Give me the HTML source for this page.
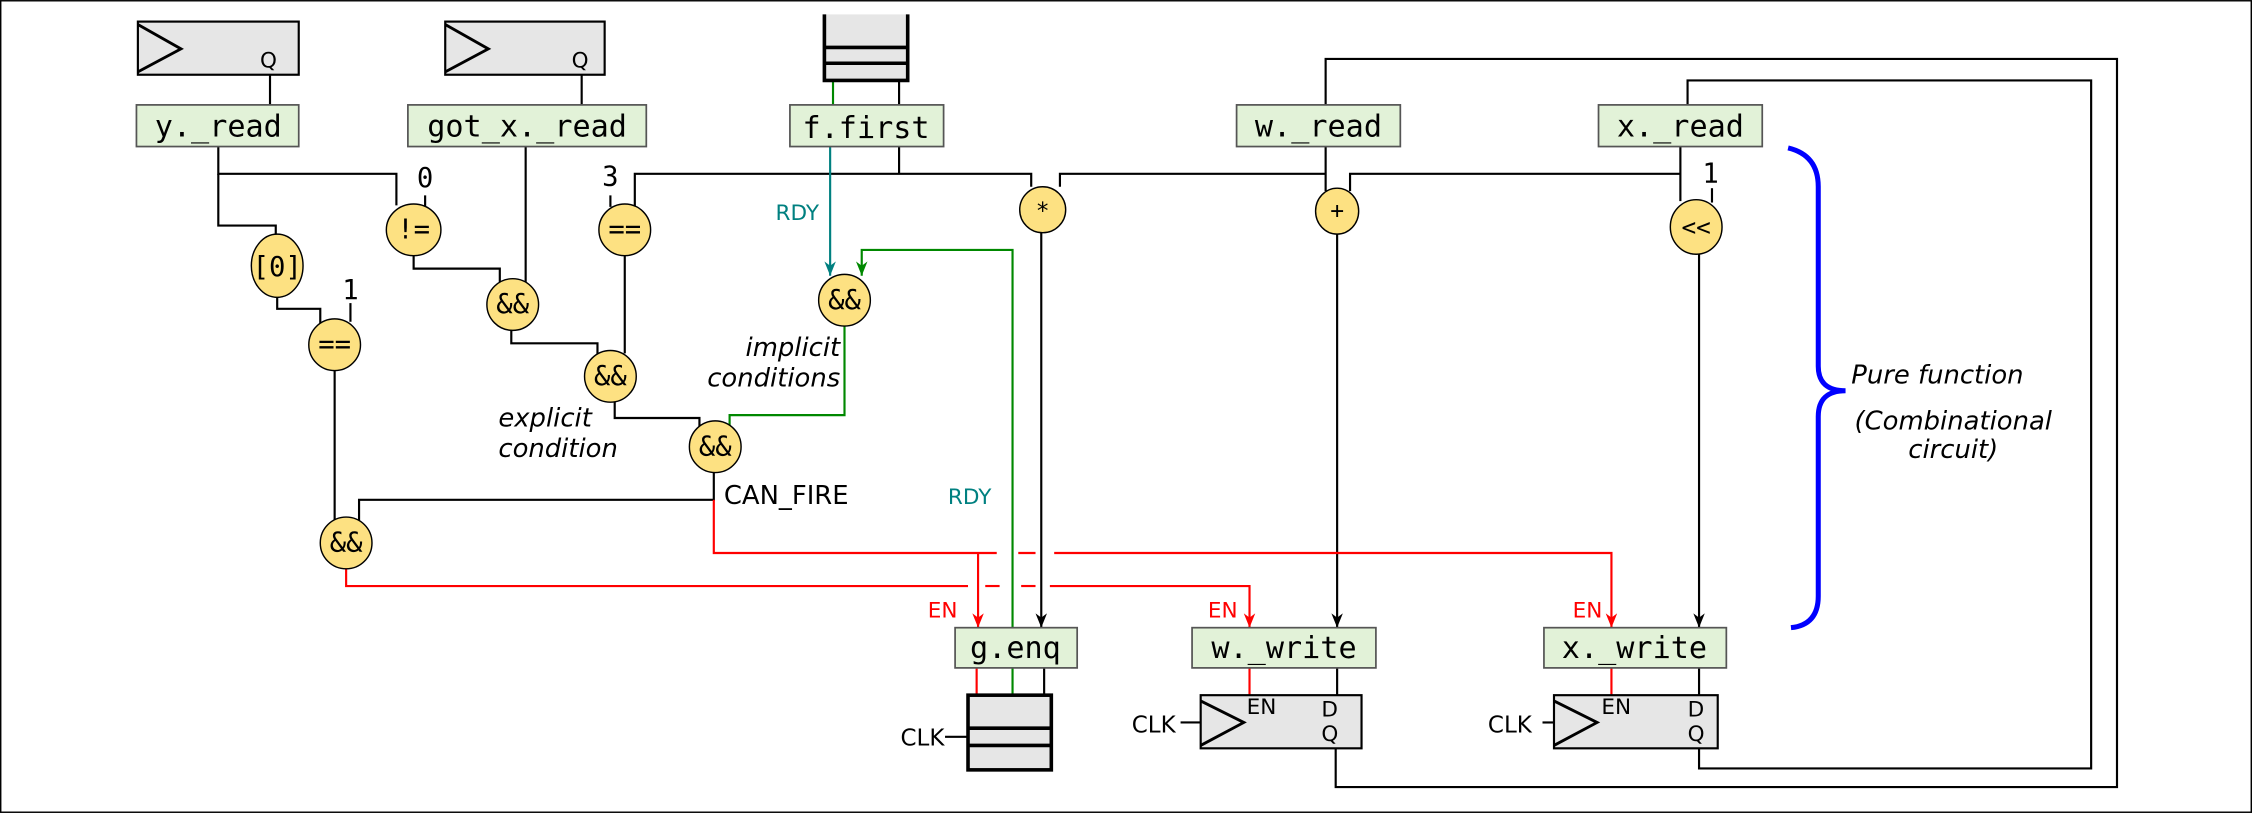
<!DOCTYPE html>
<html><head><style>html,body{margin:0;padding:0;background:#fff}svg{display:block}</style></head><body>
<svg width="2252" height="813" viewBox="0 0 1568 566" xmlns="http://www.w3.org/2000/svg">
<defs>
<marker id="ab" markerWidth="12" markerHeight="12" refX="10" refY="5" orient="auto" markerUnits="userSpaceOnUse"><path d="M0,1 L10,5 L0,9 L3,5 Z" fill="#000"/></marker>
<marker id="ar" markerWidth="12" markerHeight="12" refX="10" refY="5" orient="auto" markerUnits="userSpaceOnUse"><path d="M0,1 L10,5 L0,9 L3,5 Z" fill="#f00"/></marker>
<marker id="at" markerWidth="12" markerHeight="12" refX="10" refY="5" orient="auto" markerUnits="userSpaceOnUse"><path d="M0,1 L10,5 L0,9 L3,5 Z" fill="#008080"/></marker>
<marker id="ag" markerWidth="12" markerHeight="12" refX="10" refY="5" orient="auto" markerUnits="userSpaceOnUse"><path d="M0,1 L10,5 L0,9 L3,5 Z" fill="#080"/></marker>
</defs>
<rect x="0.5" y="0.5" width="1567" height="565" fill="#fff" stroke="#000" stroke-width="1"/>
<g fill="none" stroke="#000" stroke-width="1.5">
<polyline points="923,73 923,41 1474,41 1474,548 930,548 930,521"/>
<polyline points="1175,73 1175,56 1456,56 1456,535 1183,535 1183,521"/>
<line x1="188" y1="52" x2="188" y2="73"/>
<line x1="405" y1="52" x2="405" y2="73"/>
<line x1="626" y1="56" x2="626" y2="73"/>
<polyline points="152,102 152,121 276,121 276,143"/>
<polyline points="152,121 152,157 192,157 192,163"/>
<line x1="296" y1="136" x2="296" y2="145"/>
<polyline points="193,207 193,215 223,215 223,225"/>
<line x1="244" y1="211" x2="244" y2="224"/>
<line x1="233" y1="257" x2="233" y2="362"/>
<polyline points="288,178 288,187 348,187 348,197"/>
<line x1="366" y1="102" x2="366" y2="198"/>
<polyline points="356,229 356,239 416,239 416,247"/>
<line x1="425" y1="136" x2="425" y2="144"/>
<polyline points="442,145 442,121 718,121 718,130"/>
<line x1="626" y1="102" x2="626" y2="121"/>
<line x1="435" y1="177" x2="435" y2="246"/>
<polyline points="428,277 428,291 487,291 487,297"/>
<polyline points="497,328 497,348 250,348 250,364"/>
<line x1="725" y1="162" x2="725" y2="437" marker-end="url(#ab)"/>
<polyline points="738,130 738,121 923,121"/>
<line x1="923" y1="102" x2="923" y2="133"/>
<polyline points="940,133 940,121 1170,121"/>
<line x1="1170" y1="102" x2="1170" y2="140"/>
<line x1="1192" y1="131" x2="1192" y2="141"/>
<line x1="931" y1="163" x2="931" y2="437" marker-end="url(#ab)"/>
<line x1="1183" y1="176" x2="1183" y2="437" marker-end="url(#ab)"/>
<line x1="727" y1="465" x2="727" y2="484"/>
<line x1="931" y1="465" x2="931" y2="484"/>
<line x1="1183" y1="465" x2="1183" y2="484"/>
<line x1="658" y1="513" x2="674" y2="513"/>
<line x1="822" y1="503" x2="836" y2="503"/>
<line x1="1074" y1="503" x2="1082" y2="503"/>
</g>
<g fill="none" stroke-width="1.5">
<line x1="580" y1="56" x2="580" y2="73" stroke="#080"/>
<line x1="578" y1="102" x2="578" y2="192" stroke="#008080" marker-end="url(#at)"/>
<polyline points="705,484 705,174 600,174 600,192" stroke="#080" marker-end="url(#ag)"/>
<polyline points="588,226 588,289 508,289 508,297" stroke="#080"/>
</g>
<g fill="none" stroke="#f00" stroke-width="1.5">
<polyline points="497,348 497,385 694,385"/>
<line x1="709" y1="385" x2="721" y2="385"/>
<polyline points="734,385 1122,385 1122,437" marker-end="url(#ar)"/>
<line x1="681" y1="385" x2="681" y2="437" marker-end="url(#ar)"/>
<polyline points="241,395 241,408 674,408"/>
<line x1="686" y1="408" x2="696" y2="408"/>
<line x1="711" y1="408" x2="721" y2="408"/>
<polyline points="731,408 870,408 870,437" marker-end="url(#ar)"/>
<line x1="680" y1="465" x2="680" y2="484"/>
<line x1="870" y1="465" x2="870" y2="484"/>
<line x1="1122" y1="465" x2="1122" y2="484"/>
</g>
<g stroke="#000" stroke-width="1.5" fill="#e6e6e6">
<rect x="96" y="15" width="112" height="37"/>
<rect x="310" y="15" width="111" height="37"/>
<rect x="836" y="484" width="112" height="37"/>
<rect x="1082" y="484" width="114" height="37"/>
</g>
<g stroke="#000" stroke-width="2" fill="none">
<polyline points="96,17 126,34 96,50"/>
<polyline points="310,17 340,34 310,50"/>
<polyline points="836,488 866,503 836,519"/>
<polyline points="1082,488 1112,503 1082,519"/>
</g>
<g stroke="#000" stroke-width="2.5" fill="#e6e6e6">
<path d="M574,10 L574,56 L632,56 L632,10" />
<line x1="574" y1="33" x2="632" y2="33"/>
<line x1="574" y1="44" x2="632" y2="44"/>
<rect x="674" y="484" width="58" height="52"/>
<line x1="674" y1="507" x2="732" y2="507"/>
<line x1="674" y1="519" x2="732" y2="519"/>
</g>
<g stroke="#555" stroke-width="1.2" fill="#e2f2d8">
<rect x="95" y="73" width="113" height="29"/>
<rect x="284" y="73" width="166" height="29"/>
<rect x="550" y="73" width="107" height="29"/>
<rect x="861" y="73" width="114" height="29"/>
<rect x="1113" y="73" width="114" height="29"/>
<rect x="665" y="437" width="85" height="28"/>
<rect x="830" y="437" width="128" height="28"/>
<rect x="1075" y="437" width="127" height="28"/>
</g>
<g font-family="DejaVu Sans Mono, Liberation Mono, monospace" font-size="21" fill="#000" text-anchor="middle">
<text x="152" y="95">y._read</text>
<text x="367" y="95">got_x._read</text>
<text x="603" y="96">f.first</text>
<text x="918" y="95">w._read</text>
<text x="1170" y="95">x._read</text>
<text x="707" y="458">g.enq</text>
<text x="894" y="458">w._write</text>
<text x="1138" y="458">x._write</text>
</g>
<g stroke="#000" stroke-width="1" fill="#fde182">
<ellipse cx="288" cy="160" rx="19" ry="18"/>
<ellipse cx="193" cy="185" rx="18" ry="22"/>
<ellipse cx="233" cy="240" rx="18" ry="18"/>
<ellipse cx="357" cy="212" rx="18" ry="18"/>
<ellipse cx="435" cy="160" rx="18" ry="18"/>
<ellipse cx="425" cy="262" rx="18" ry="18"/>
<ellipse cx="498" cy="311" rx="18" ry="18"/>
<ellipse cx="588" cy="209" rx="18" ry="18"/>
<ellipse cx="241" cy="378" rx="18" ry="18"/>
<ellipse cx="726" cy="146" rx="16" ry="16"/>
<ellipse cx="931" cy="147" rx="15" ry="16"/>
<ellipse cx="1181" cy="158" rx="18" ry="19"/>
</g>
<g font-family="DejaVu Sans Mono, Liberation Mono, monospace" font-size="19" fill="#000" text-anchor="middle">
<text x="288" y="166">!=</text>
<text x="193" y="192">[0]</text>
<text x="233" y="246">==</text>
<text x="357" y="218">&amp;&amp;</text>
<text x="435" y="166">==</text>
<text x="425" y="268">&amp;&amp;</text>
<text x="498" y="317">&amp;&amp;</text>
<text x="588" y="215">&amp;&amp;</text>
<text x="241" y="384">&amp;&amp;</text>
<text x="726" y="152" font-size="16">*</text>
<text x="931" y="152" font-size="16">+</text>
<text x="1181" y="164" font-size="17">&lt;&lt;</text>
<text x="296" y="130">0</text>
<text x="244" y="208">1</text>
<text x="425" y="129">3</text>
<text x="1191" y="127">1</text>
</g>
<g font-family="DejaVu Sans, Liberation Sans, sans-serif" font-size="18" fill="#000">
<text x="504" y="351">CAN_FIRE</text>
<text x="540" y="153" fill="#008080" font-size="15">RDY</text>
<text x="660" y="351" fill="#008080" font-size="15">RDY</text>
<text x="646" y="430" fill="#f00" font-size="15">EN</text>
<text x="841" y="430" fill="#f00" font-size="15">EN</text>
<text x="1095" y="430" fill="#f00" font-size="15">EN</text>
<text x="627" y="519" font-size="16">CLK</text>
<text x="788" y="510" font-size="16">CLK</text>
<text x="1036" y="510" font-size="16">CLK</text>
<text x="868" y="497" font-size="15">EN</text>
<text x="920" y="499" font-size="15">D</text>
<text x="920" y="516" font-size="15">Q</text>
<text x="1115" y="497" font-size="15">EN</text>
<text x="1175" y="499" font-size="15">D</text>
<text x="1175" y="516" font-size="15">Q</text>
<text x="181" y="47" font-size="15">Q</text>
<text x="398" y="47" font-size="15">Q</text>
</g>
<g font-family="DejaVu Sans, Liberation Sans, sans-serif" font-size="18" font-style="italic" fill="#000">
<text x="585" y="248" text-anchor="end">implicit</text>
<text x="585" y="269" text-anchor="end">conditions</text>
<text x="347" y="297">explicit</text>
<text x="347" y="318">condition</text>
<text x="1289" y="267">Pure function</text>
<text x="1360" y="299" text-anchor="middle">(Combinational</text>
<text x="1360" y="319" text-anchor="middle">circuit)</text>
</g>
<path d="M1245,103 Q1266,108 1266,130 L1266,255 Q1266,272 1285,272 Q1266,272 1266,290 L1266,415 Q1266,435 1247,437" fill="none" stroke="#00f" stroke-width="3.5"/>
</svg>
</body></html>
